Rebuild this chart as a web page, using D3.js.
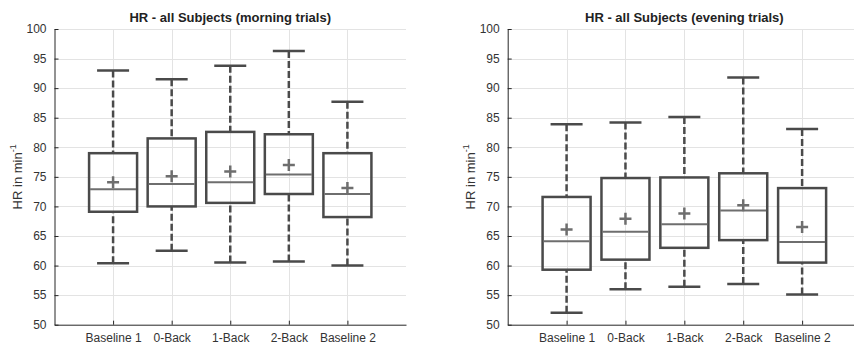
<html>
<head>
<script src="https://d3js.org/d3.v7.min.js"></script>
<style>
  body { margin: 0; background: #fff; overflow: hidden; }
  text { font-family: "Liberation Sans", Arial, sans-serif; }
</style>
</head>
<body>
<script>

var categories = ["Baseline 1", "0-Back", "1-Back", "2-Back", "Baseline 2"];
var yTicks = [50, 55, 60, 65, 70, 75, 80, 85, 90, 95, 100];

// morning trials
var morningMin    = [60.4, 62.5, 60.5, 60.7, 60.0];
var morningQ1     = [69.1, 70.0, 70.6, 72.1, 68.2];
var morningMedian = [72.9, 73.8, 74.1, 75.4, 72.1];
var morningQ3     = [79.0, 81.5, 82.6, 82.2, 79.0];
var morningMax    = [93.0, 91.5, 93.8, 96.3, 87.7];
var morningMean   = [74.1, 75.1, 75.9, 77.0, 73.1];

// evening trials
var eveningMin    = [52.0, 56.0, 56.4, 56.9, 55.1];
var eveningQ1     = [59.3, 61.0, 63.0, 64.3, 60.5];
var eveningMedian = [64.1, 65.7, 67.0, 69.3, 64.0];
var eveningQ3     = [71.6, 74.8, 74.9, 75.6, 73.1];
var eveningMax    = [83.9, 84.2, 85.1, 91.8, 83.1];
var eveningMean   = [66.1, 67.9, 68.8, 70.2, 66.5];

var W = 854, H = 344;
var plotTop = 29, plotBottom = 324.7;

var svg = d3.select("body").append("svg")
            .attr("width", W)
            .attr("height", H)
            .style("display", "block");

function panel(left, right, title, mins, q1, med, q3, maxs, means) {
  var g = svg.append("g");
  var rows = categories.map(function(c, i) {
    return {cat: c, min: mins[i], q1: q1[i], med: med[i], q3: q3[i], max: maxs[i], mean: means[i]};
  });

  var x = d3.scalePoint()
            .domain(categories)
            .range([left, right])
            .padding(1);
  var y = d3.scaleLinear()
            .domain([50, 100])
            .range([plotBottom, plotTop]);

  // grid
  g.selectAll(".hgrid").data(yTicks.slice(1))
   .enter().append("line")
   .attr("x1", left).attr("x2", right)
   .attr("y1", function(d) { return Math.round(y(d)) + 0.5; })
   .attr("y2", function(d) { return Math.round(y(d)) + 0.5; })
   .attr("stroke", "#e3e3e3");
  g.selectAll(".vgrid").data(categories)
   .enter().append("line")
   .attr("x1", function(d) { return Math.round(x(d)) + 0.5; })
   .attr("x2", function(d) { return Math.round(x(d)) + 0.5; })
   .attr("y1", plotTop).attr("y2", plotBottom)
   .attr("stroke", "#e3e3e3");

  // axes
  var yAxis = g.append("g")
               .attr("transform", "translate(" + left + ",0)")
               .call(d3.axisLeft(y).tickValues(yTicks).tickSizeInner(-4).tickSizeOuter(0).tickPadding(8));
  var xAxis = g.append("g")
               .attr("transform", "translate(0," + plotBottom + ")")
               .call(d3.axisBottom(x).tickSizeInner(-4).tickSizeOuter(0).tickPadding(9));
  [xAxis, yAxis].forEach(function(a) {
    a.select(".domain").attr("stroke", "#262626");
    a.selectAll(".tick line").attr("stroke", "#262626");
    a.selectAll(".tick text").attr("fill", "#333").style("font-size", "12px")
     .style("font-family", "'Liberation Sans', Arial, sans-serif");
  });

  // whiskers
  var boxes = g.selectAll(".box").data(rows).enter().append("g");
  boxes.append("line")
       .attr("x1", function(d) { return x(d.cat); })
       .attr("x2", function(d) { return x(d.cat); })
       .attr("y1", function(d) { return y(d.max); })
       .attr("y2", function(d) { return y(d.q3); })
       .attr("stroke", "#4a4a4a").attr("stroke-width", 2.5)
       .attr("stroke-dasharray", "7,3");
  boxes.append("line")
       .attr("x1", function(d) { return x(d.cat); })
       .attr("x2", function(d) { return x(d.cat); })
       .attr("y1", function(d) { return y(d.min); })
       .attr("y2", function(d) { return y(d.q1); })
       .attr("stroke", "#4a4a4a").attr("stroke-width", 2.5)
       .attr("stroke-dasharray", "7,3");
  // caps
  ["max", "min"].forEach(function(k) {
    boxes.append("line")
         .attr("x1", function(d) { return x(d.cat) - 16; })
         .attr("x2", function(d) { return x(d.cat) + 16; })
         .attr("y1", function(d) { return y(d[k]); })
         .attr("y2", function(d) { return y(d[k]); })
         .attr("stroke", "#4a4a4a").attr("stroke-width", 2.5);
  });
  // box
  boxes.append("rect")
       .attr("x", function(d) { return x(d.cat) - 24; })
       .attr("width", 48)
       .attr("y", function(d) { return y(d.q3); })
       .attr("height", function(d) { return y(d.q1) - y(d.q3); })
       .attr("fill", "none")
       .attr("stroke", "#4a4a4a").attr("stroke-width", 2.5);
  // median
  boxes.append("line")
       .attr("x1", function(d) { return x(d.cat) - 23; })
       .attr("x2", function(d) { return x(d.cat) + 23; })
       .attr("y1", function(d) { return y(d.med); })
       .attr("y2", function(d) { return y(d.med); })
       .attr("stroke", "#6e6e6e").attr("stroke-width", 2);
  // mean marker
  boxes.append("path")
       .attr("d", function(d) {
         var cx = x(d.cat), cy = y(d.mean);
         return "M" + (cx - 6) + "," + cy + "H" + (cx + 6) + "M" + cx + "," + (cy - 6) + "V" + (cy + 6);
       })
       .attr("stroke", "#6e6e6e").attr("stroke-width", 2.5);

  // title
  g.append("text")
   .attr("x", (left + right) / 2)
   .attr("y", 22)
   .attr("text-anchor", "middle")
   .style("font-size", "13px")
   .style("font-weight", "bold")
   .attr("fill", "#222")
   .text(title);

  // y label
  var lab = g.append("text")
             .attr("transform", "translate(" + (left - 33) + "," + ((plotTop + plotBottom) / 2) + ") rotate(-90)")
             .attr("text-anchor", "middle")
             .style("font-size", "13px")
             .attr("fill", "#333");
  lab.append("tspan").text("HR in min");
  lab.append("tspan").attr("dy", -6).style("font-size", "9px").text("-1");
}

panel(54.5, 406, "HR - all Subjects (morning trials)",
      morningMin, morningQ1, morningMedian, morningQ3, morningMax, morningMean);
panel(507.7, 861, "HR - all Subjects (evening trials)",
      eveningMin, eveningQ1, eveningMedian, eveningQ3, eveningMax, eveningMean);

</script>
</body>
</html>
